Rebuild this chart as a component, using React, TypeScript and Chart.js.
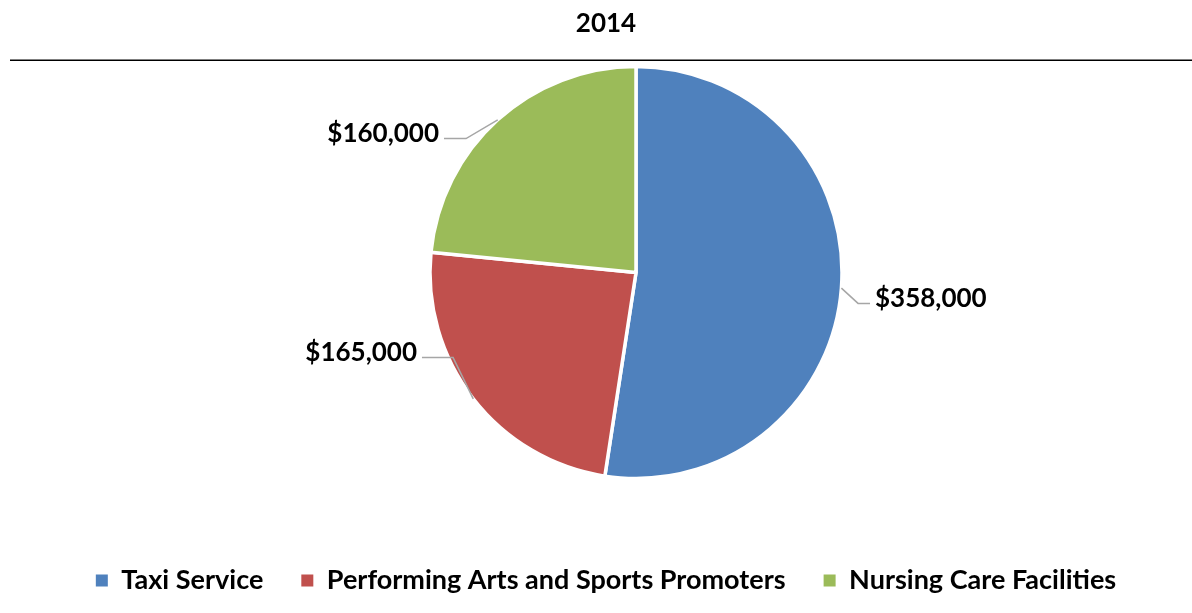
import { useEffect, useRef } from "react";
import { Chart, registerables } from "chart.js";

Chart.register(...registerables);

const TITLE = "2014";
const categories = ["Taxi Service", "Performing Arts and Sports Promoters", "Nursing Care Facilities"];
const values = [358000, 165000, 160000];
const valueLabels = ["$358,000", "$165,000", "$160,000"];
const colors = ["#4F81BD", "#C0504D", "#9BBB59"];

// leader-line layout, in units of the pie radius, relative to the pie centre
const leaderLayout = [
  { ex: 1.078, ey: 0.15, tx: 1.136 },
  { ex: -0.888, ey: 0.413, tx: -1.039 },
  { ex: -0.825, ey: -0.65, tx: -0.932 },
];

const FONT = "Lato";
const PIE_SHIFT_X = 30;

const pieShiftPlugin = {
  id: "pieShift",
  afterLayout(chart: any) {
    const a = chart.chartArea;
    a.left += PIE_SHIFT_X * 2;
    a.width = a.right - a.left;
  },
};

const titleRulePlugin = {
  id: "titleRule",
  afterDraw(chart: any) {
    const ctx = chart.ctx;
    const y = chart.titleBlock.bottom - 4;
    ctx.save();
    ctx.strokeStyle = "#000";
    ctx.lineWidth = 1.5;
    ctx.beginPath();
    ctx.moveTo(10, y);
    ctx.lineTo(chart.width, y);
    ctx.stroke();
    ctx.restore();
  },
};

const labelPlugin = {
  id: "outsideLabels",
  afterDatasetsDraw(chart: any) {
    const ctx = chart.ctx;
    const meta = chart.getDatasetMeta(0);
    ctx.save();
    meta.data.forEach((arc: any, i: number) => {
      const { x, y, startAngle, endAngle, outerRadius } = arc.getProps(
        ["x", "y", "startAngle", "endAngle", "outerRadius"],
        true
      );
      const mid = (startAngle + endAngle) / 2;
      const r = outerRadius;
      const L = leaderLayout[i];
      const sx = x + Math.cos(mid) * r;
      const sy = y + Math.sin(mid) * r;
      const exx = x + L.ex * r;
      const eyy = y + L.ey * r;
      const txx = x + L.tx * r;
      ctx.strokeStyle = "#A6A6A6";
      ctx.lineWidth = 1.5;
      ctx.beginPath();
      ctx.moveTo(sx, sy);
      ctx.lineTo(exx, eyy);
      ctx.lineTo(txx, eyy);
      ctx.stroke();
      ctx.fillStyle = "#000";
      ctx.font = `bold 26px ${FONT}`;
      ctx.textBaseline = "middle";
      const right = L.tx > 0;
      ctx.textAlign = right ? "left" : "right";
      ctx.fillText(valueLabels[i], txx + (right ? 5 : -5), eyy - 5);
    });
    ctx.restore();
  },
};

export default function App() {
  const ref = useRef<HTMLCanvasElement | null>(null);
  useEffect(() => {
    document.body.style.margin = "0";
    const canvas = ref.current;
    if (!canvas) return;
    const baseGen = (Chart as any).overrides.pie.plugins.legend.labels.generateLabels;
    const chart = new Chart(canvas, {
      type: "pie",
      data: {
        labels: categories,
        datasets: [
          {
            data: values,
            backgroundColor: colors,
            borderColor: "#FFFFFF",
            borderWidth: 3.5,
            radius: 206,
          },
        ],
      },
      options: {
        responsive: false,
        animation: false,
        layout: { padding: { left: 20, right: 0, top: 0, bottom: 9 } },
        plugins: {
          tooltip: { enabled: false },
          title: {
            display: true,
            text: TITLE,
            color: "#000",
            font: { family: FONT, size: 26, weight: "bold" },
            padding: { top: 8, bottom: 25 },
          },
          legend: {
            position: "bottom",
            title: { display: true, text: "", font: { size: 1 }, padding: { top: 47, bottom: 0 } },
            labels: {
              color: "#000",
              boxWidth: 12,
              boxHeight: 12,
              padding: 38,
              font: { family: FONT, size: 27, weight: "bold" },
              generateLabels(c: any) {
                return baseGen(c).map((it: any) => ({ ...it, lineWidth: 0 }));
              },
            },
          },
        },
      } as any,
      plugins: [pieShiftPlugin, titleRulePlugin, labelPlugin],
    });
    return () => chart.destroy();
  }, []);
  return (
    <div style={{ width: 1192, height: 613 }}>
      <canvas ref={ref} width={1192} height={613} />
    </div>
  );
}
